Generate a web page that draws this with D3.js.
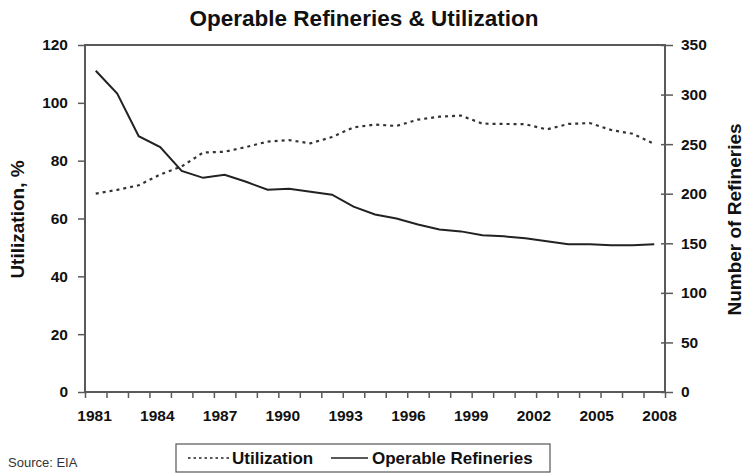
<!DOCTYPE html>
<html><head><meta charset="utf-8">
<script src="https://cdn.jsdelivr.net/npm/d3@7/dist/d3.min.js"></script>
<style>
html,body{margin:0;padding:0;background:#fff;}
svg{display:block;font-family:"Liberation Sans",Arial,sans-serif;}
</style></head>
<body>
<svg id="chart" width="744" height="474"></svg>
<script>
const years = [1981,1982,1983,1984,1985,1986,1987,1988,1989,1990,1991,1992,1993,1994,1995,1996,1997,1998,1999,2000,2001,2002,2003,2004,2005,2006,2007];
const utilization = [68.6,69.9,71.5,75.2,78.0,82.8,83.1,84.7,86.6,87.1,86.0,88.2,91.5,92.5,92.0,94.2,95.2,95.6,92.8,92.7,92.6,90.8,92.7,93.0,90.6,89.3,85.8];
const refineries = [324,301,258,247,223,216,219,212,204,205,202,199,187,179,175,169,164,162,158,157,155,152,149,149,148,148,149];
const xLabels = ["1981","1984","1987","1990","1993","1996","1999","2002","2005","2008"];
const leftTicks = [0,20,40,60,80,100,120];
const rightTicks = [0,50,100,150,200,250,300,350];
const seriesNames = ["Utilization","Operable Refineries"];

const svg = d3.select("#chart");
const L = 85, R = 665, T = 45, B = 392;
const axisColor = "#5a5a5a";
const FF = "Liberation Sans, Arial, sans-serif";

const x = d3.scaleBand().domain(years).range([L, R]).padding(0);
const xIdx = d3.scaleLinear().domain([0, years.length]).range([L, R]);
const xLab = d3.scalePoint().domain(xLabels).range([L + 9, R - 6]);
const yL = d3.scaleLinear().domain([0, 120]).range([B, T]);
const yR = d3.scaleLinear().domain([0, 350]).range([B, T]);

// Title
svg.append("text").attr("x", 364).attr("y", 26).attr("text-anchor", "middle")
  .attr("font-size", 22.5).attr("font-weight", "bold").attr("fill", "#111")
  .text("Operable Refineries & Utilization");

// Frame
svg.append("rect").attr("x", L).attr("y", T).attr("width", R - L).attr("height", B - T)
  .attr("fill", "none").attr("stroke", axisColor).attr("stroke-width", 2);

// Left axis
const gL = svg.append("g").attr("transform", `translate(${L},0)`)
  .call(d3.axisLeft(yL).tickValues(leftTicks).tickSize(7).tickPadding(10).tickFormat(d3.format("d")));
gL.select(".domain").remove();
gL.selectAll("line").attr("stroke", axisColor).attr("stroke-width", 1.5);
gL.selectAll("text").attr("font-size", 15.5).attr("font-weight", "bold").attr("fill", "#111")
  .attr("font-family", FF);

// Right axis
const gR = svg.append("g").attr("transform", `translate(${R},0)`)
  .call(d3.axisRight(yR).tickValues(rightTicks).tickSizeInner(8).tickSizeOuter(0).tickPadding(8).tickFormat(d3.format("d")));
gR.select(".domain").remove();
gR.selectAll("line").attr("x1", -4).attr("stroke", axisColor).attr("stroke-width", 1.5);
gR.selectAll("text").attr("font-size", 15.5).attr("font-weight", "bold").attr("fill", "#111")
  .attr("font-family", FF);

// Bottom axis ticks (category boundaries)
const gB = svg.append("g").attr("transform", `translate(0,${B})`)
  .call(d3.axisBottom(xIdx).tickValues(d3.range(0, years.length + 1)).tickSize(6).tickFormat(""));
gB.select(".domain").remove();
gB.selectAll("line").attr("stroke", axisColor).attr("stroke-width", 1.5);

// Bottom labels
const gBL = svg.append("g").attr("transform", `translate(0,${B})`)
  .call(d3.axisBottom(xLab).tickSize(0).tickPadding(18));
gBL.select(".domain").remove();
gBL.selectAll("text").attr("font-size", 15.5).attr("font-weight", "bold").attr("fill", "#111")
  .attr("font-family", FF);

// Axis titles
svg.append("text").attr("transform", `translate(24,${(T + B) / 2 + 1}) rotate(-90)`)
  .attr("text-anchor", "middle").attr("font-size", 19).attr("font-weight", "bold").attr("fill", "#111")
  .text("Utilization, %");
svg.append("text").attr("transform", `translate(741,${(T + B) / 2 + 1}) rotate(-90)`)
  .attr("text-anchor", "middle").attr("font-size", 19).attr("font-weight", "bold").attr("fill", "#111")
  .text("Number of Refineries");

// Lines
const cx = d => x(d) + x.bandwidth() / 2;
const lineU = d3.line().x((d, i) => cx(years[i])).y(d => yL(d));
const lineR = d3.line().x((d, i) => cx(years[i])).y(d => yR(d));

svg.append("path").datum(utilization).attr("d", lineU).attr("fill", "none")
  .attr("stroke", "#333").attr("stroke-width", 2.2).attr("stroke-dasharray", "3,4");
svg.append("path").datum(refineries).attr("d", lineR).attr("fill", "none")
  .attr("stroke", "#222").attr("stroke-width", 2);

// Legend
const lg = svg.append("g");
lg.append("rect").attr("x", 176).attr("y", 444).attr("width", 374).attr("height", 28)
  .attr("fill", "#fff").attr("stroke", "#555").attr("stroke-width", 1.2);
const legendItems = [
  {name: seriesNames[0], x1: 188, x2: 229, tx: 232, dash: "2.5,3"},
  {name: seriesNames[1], x1: 331, x2: 368, tx: 372, dash: null}
];
legendItems.forEach(it => {
  const ln = lg.append("line").attr("x1", it.x1).attr("x2", it.x2).attr("y1", 458).attr("y2", 458)
    .attr("stroke", "#222").attr("stroke-width", it.dash ? 1.6 : 1.5);
  if (it.dash) ln.attr("stroke-dasharray", it.dash);
  lg.append("text").attr("x", it.tx).attr("y", 464).attr("font-size", 17).attr("font-weight", "bold")
    .attr("fill", "#111").text(it.name);
});

// Source
svg.append("text").attr("x", 8).attr("y", 467).attr("font-size", 13).attr("fill", "#333")
  .text("Source: EIA");
</script>
</body></html>
